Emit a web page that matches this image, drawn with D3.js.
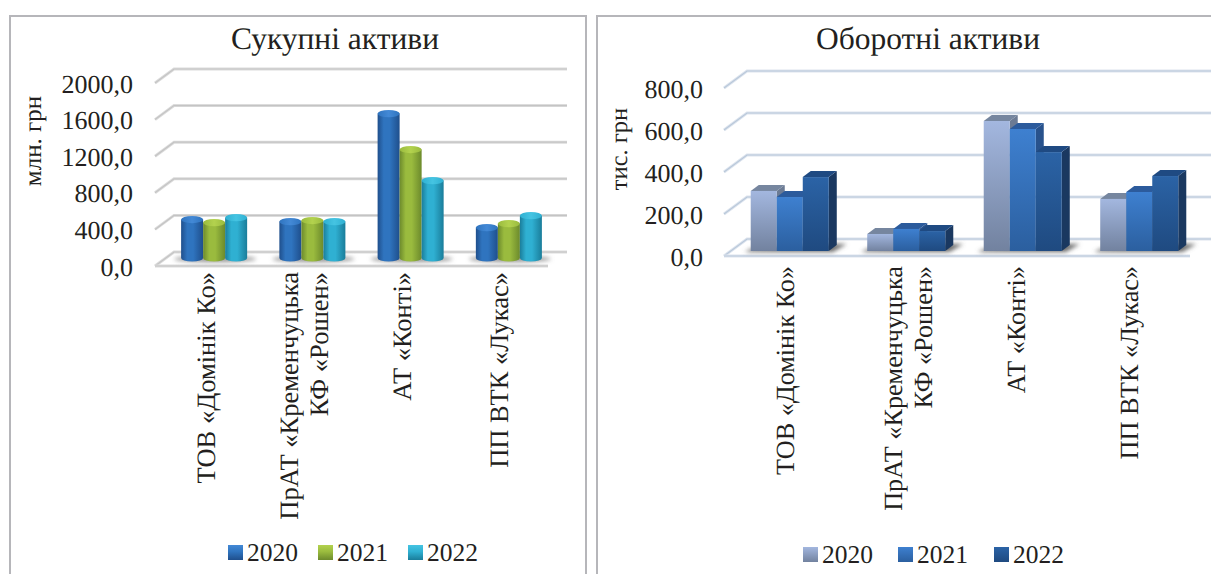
<!DOCTYPE html>
<html>
<head>
<meta charset="utf-8">
<script src="https://cdn.jsdelivr.net/npm/d3@7"></script>
<style>
    body { margin: 0; background: #fff; }
    text { font-family: "Liberation Serif", serif; fill: #231f20; text-rendering: geometricPrecision; }
</style>
</head>
<body>
<svg id="chart" width="1211" height="574"></svg>
<script>
"use strict";

// data
const categories = ["ТОВ «Домінік Ко»", "ПрАТ «Кременчуцька|КФ «Рошен»", "АТ «Конті»", "ПП ВТК «Лукас»"];
const years = ["2020", "2021", "2022"];

const totalTicks = [0, 400, 800, 1200, 1600, 2000];
const total2020 = [420, 398, 1578, 332];
const total2021 = [387, 409, 1185, 376];
const total2022 = [441, 398, 846, 463];

const currentTicks = [0, 200, 400, 600, 800];
const current2020 = [286, 81, 619, 248];
const current2021 = [257, 105, 581, 281];
const current2022 = [352, 95, 471, 357];

const svg = d3.select("#chart");
const defs = svg.append("defs");

defs.append("filter").attr("id", "blur")
    .attr("x", "-30%").attr("y", "-100%").attr("width", "160%").attr("height", "300%")
    .append("feGaussianBlur").attr("stdDeviation", 2.2);

// gradient helper
function gradient(id, horizontal, stops) {
    const g = defs.append("linearGradient").attr("id", id)
        .attr("x1", 0).attr("y1", 0)
        .attr("x2", horizontal ? 1 : 0).attr("y2", horizontal ? 0 : 1);
    stops.forEach(function (s) {
        g.append("stop").attr("offset", s[0]).attr("stop-color", s[1]);
    });
}

const cylinderColors = [
    { edge: "#1f4f8c", mid: "#2f74bf", top: "#4389d6" },
    { edge: "#6c8a2c", mid: "#9abb3e", top: "#b3d24e" },
    { edge: "#1a7d9a", mid: "#2fb0d2", top: "#45c4e2" }
];
cylinderColors.forEach(function (c, i) {
    gradient("cyl" + i, true, [[0, c.edge], [0.28, c.mid], [0.55, c.mid], [1, c.edge]]);
    gradient("cap" + i, true, [[0, c.mid], [0.5, c.top], [1, c.mid]]);
    gradient("leg" + i, false, [[0, c.top], [0.45, c.mid], [1, c.edge]]);
});

const boxColors = [
    { front: ["#a3b7df", "#72829f"], top: "#76869f", side: "#6c7b94" },
    { front: ["#3e80d0", "#2b5f9f"], top: "#2c5b9c", side: "#28528c" },
    { front: ["#2b63a6", "#1f4a80"], top: "#1f4a82", side: "#1a3860" }
];
boxColors.forEach(function (c, i) {
    gradient("box" + i, false, [[0, c.front[0]], [1, c.front[1]]]);
});

// frames of the two panels, open at the bottom
const frameLine = d3.line();
[[[10, 574], [10, 16], [586, 16], [586, 574]], [[597, 574], [597, 16], [1211, 16]]].forEach(function (p) {
    svg.append("path").attr("d", frameLine(p))
        .attr("fill", "none").attr("stroke", "#b6b6ba").attr("stroke-width", 2);
});

function drawPanel(cfg) {
    const g = svg.append("g");

    // y on the back wall and y on the plane of the bars
    const yBack = d3.scaleLinear().domain(d3.extent(cfg.ticks)).range(cfg.backRange);
    const yBar = d3.scaleLinear().domain(d3.extent(cfg.ticks)).range(cfg.barRange);
    const yFront = d3.scaleLinear().domain(d3.extent(cfg.ticks))
        .range(cfg.backRange.map(function (v) { return v + cfg.depth[1]; }));

    const x0 = d3.scaleBand().domain(categories).range([cfg.left, cfg.right])
        .paddingInner(cfg.gap).paddingOuter(cfg.gap / 2);
    const x1 = d3.scaleBand().domain(years).range([0, x0.bandwidth()]);

    // walls: grid lines running back from the axis
    const backX = cfg.left + cfg.depth[0];
    cfg.ticks.forEach(function (t) {
        const pts = [[cfg.left, yFront(t)], [backX, yBack(t)], [cfg.right + cfg.depth[0], yBack(t)]];
        g.append("path").attr("d", frameLine(pts)).attr("fill", "none")
            .attr("stroke", cfg.gridEdge).attr("stroke-width", 3);
        g.append("path").attr("d", frameLine(pts)).attr("fill", "none")
            .attr("stroke", cfg.gridMid).attr("stroke-width", 1.2);
    });
    // front edge of the floor
    g.append("line").attr("x1", cfg.left).attr("x2", cfg.right)
        .attr("y1", yFront(0)).attr("y2", yFront(0))
        .attr("stroke", cfg.gridEdge).attr("stroke-width", 3);
    g.append("line").attr("x1", cfg.left).attr("x2", cfg.right)
        .attr("y1", yFront(0)).attr("y2", yFront(0))
        .attr("stroke", cfg.gridMid).attr("stroke-width", 1.2);

    // bars
    categories.forEach(function (cat, ci) {
        const cx = x0(cat) + cfg.shift;
        const bw = x1.bandwidth();

        // floor shadow
        if (cfg.shape === "cylinder") {
            g.append("ellipse").attr("cx", cx + x0.bandwidth() / 2 + 1)
                .attr("cy", yBar(0) + 1).attr("rx", x0.bandwidth() / 2 + 8).attr("ry", 3.2)
                .attr("fill", "#9a9a9a").attr("filter", "url(#blur)");
        } else {
            const bx = cx + x0.bandwidth();
            const base = yBar(0);
            g.append("path")
                .attr("d", frameLine([[cx - 6, base + 1], [cx, base - 2], [bx + 8, base - 7], [bx + 18, base - 7], [bx + 4, base + 1]]) + "Z")
                .attr("fill", "#6a6a6a").attr("filter", "url(#blur)");
        }

        years.forEach(function (yr, si) {
            const v = cfg.series[si][ci];
            const x = cx + x1(yr);
            const yTop = yBar(v);
            const yBase = yBar(0);
            if (cfg.shape === "cylinder") {
                const rx = bw / 2, ry = 3.6;
                g.append("path")
                    .attr("d", "M" + x + "," + yTop + "L" + x + "," + yBase +
                        "A" + rx + "," + ry + " 0 0 0 " + (x + bw) + "," + yBase +
                        "L" + (x + bw) + "," + yTop + "Z")
                    .attr("fill", "url(#cyl" + si + ")");
                g.append("ellipse").attr("cx", x + rx).attr("cy", yTop)
                    .attr("rx", rx).attr("ry", ry)
                    .attr("fill", "url(#cap" + si + ")");
            } else {
                const dx = cfg.barDepth[0], dy = cfg.barDepth[1];
                const c = boxColors[si];
                g.append("path")
                    .attr("d", frameLine([[x + bw, yTop], [x + bw + dx, yTop - dy], [x + bw + dx, yBase - dy], [x + bw, yBase]]) + "Z")
                    .attr("fill", c.side);
                g.append("path")
                    .attr("d", frameLine([[x, yTop], [x + dx, yTop - dy], [x + bw + dx, yTop - dy], [x + bw, yTop]]) + "Z")
                    .attr("fill", c.top);
                g.append("rect").attr("x", x).attr("y", yTop)
                    .attr("width", bw).attr("height", yBase - yTop)
                    .attr("fill", "url(#box" + si + ")");
            }
        });

        // rotated category label, one text per line
        const lines = cat.split("|");
        lines.forEach(function (line, li) {
            const bx = x0(cat) + x0.bandwidth() / 2 + cfg.labelShift[ci] + (li - (lines.length - 1) / 2) * 29.5;
            g.append("text")
                .attr("transform", "translate(" + bx + "," + cfg.labelTop + ") rotate(-90)")
                .attr("text-anchor", "end")
                .attr("font-size", cfg.labelSize)
                .text(line);
        });
    });

    // value axis labels, sitting on the front plane
    const axis = d3.axisLeft(yFront).tickValues(cfg.ticks).tickSize(0).tickPadding(0)
        .tickFormat(function (d) { return d3.format(".1f")(d).replace(".", ","); });
    const axisG = g.append("g").attr("transform", "translate(" + cfg.tickRight + ",0)").call(axis);
    axisG.select(".domain").remove();
    axisG.selectAll("text").attr("font-size", 26).attr("font-family", "Liberation Serif")
        .attr("fill", "#231f20").attr("dy", null).attr("y", 9);

    // title
    g.append("text").attr("x", cfg.titleX).attr("y", 49)
        .attr("text-anchor", "middle").attr("font-size", 31.5).text(cfg.title);

    // value axis title
    g.append("text")
        .attr("transform", "translate(" + cfg.unitX + "," + cfg.unitY + ") rotate(-90)")
        .attr("text-anchor", "middle").attr("font-size", cfg.unitSize).text(cfg.unit);

    // legend
    years.forEach(function (yr, si) {
        const lx = cfg.legendX[si];
        g.append("rect").attr("x", lx).attr("y", cfg.legendY)
            .attr("width", 15).attr("height", 15)
            .attr("fill", cfg.shape === "cylinder" ? "url(#leg" + si + ")" : "url(#box" + si + ")");
        g.append("text").attr("x", lx + 19).attr("y", cfg.legendY + 16)
            .attr("font-size", 25.5).text(yr);
    });
}

drawPanel({
    title: "Сукупні активи", titleX: 335,
    unit: "млн. грн", unitX: 41, unitY: 141, unitSize: 25,
    shape: "cylinder",
    ticks: totalTicks,
    series: [total2020, total2021, total2022],
    left: 155, right: 548, depth: [19, 14],
    backRange: [252, 69], barRange: [258, 75],
    gap: 0.328, shift: 10,
    gridEdge: "#dcdcdc", gridMid: "#c4c4c4",
    tickRight: 133,
    labelTop: 272, labelSize: 26.5, labelShift: [11, 10.5, 10, 9],
    legendX: [228, 318, 408], legendY: 545
});

drawPanel({
    title: "Оборотні активи", titleX: 928,
    unit: "тис. грн", unitX: 627, unitY: 149, unitSize: 24.5,
    shape: "box",
    ticks: currentTicks,
    series: [current2020, current2021, current2022],
    left: 724, right: 1190, depth: [23, 17],
    backRange: [239, 71], barRange: [251, 83],
    gap: 0.33, shift: 7.5, barDepth: [8, 6],
    gridEdge: "#dde4ee", gridMid: "#b9c8da",
    tickRight: 703,
    labelTop: 266, labelSize: 26.2, labelShift: [12, 18, 10, 6],
    legendX: [803, 898, 994], legendY: 547
});
</script>
</body>
</html>
